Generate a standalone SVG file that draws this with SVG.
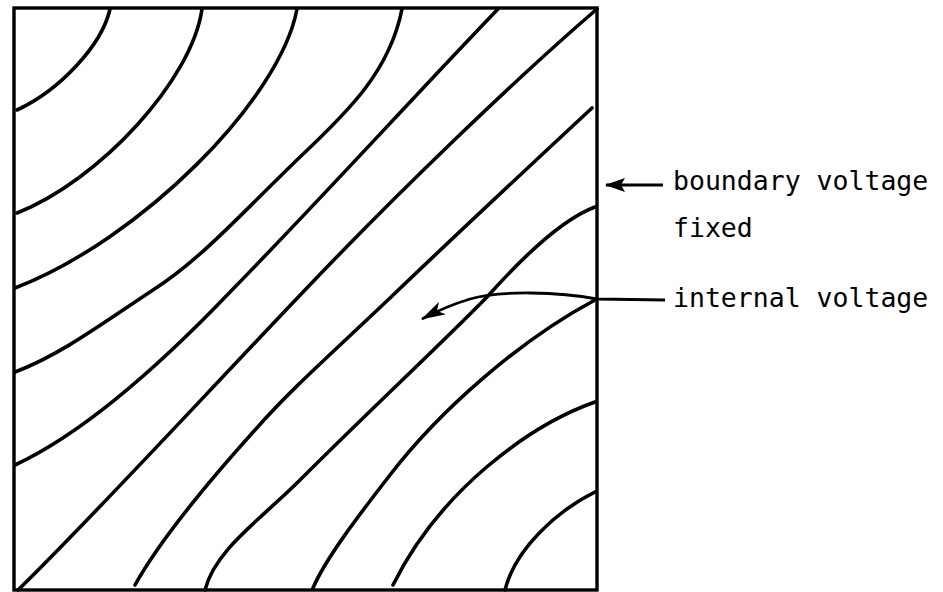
<svg xmlns="http://www.w3.org/2000/svg" width="943" height="592" viewBox="0 0 943 592">
  <style>
    .box { fill: none; stroke: #000; stroke-width: 3.4; }
    .eq { fill: none; stroke: #000; stroke-width: 3.6; stroke-linecap: round; }
    .lead { fill: none; stroke: #000; stroke-width: 2.8; }
    .lbl { font-family: "DejaVu Sans Mono", "Liberation Mono", monospace; font-size: 26.5px; fill: #000; }
  </style>
  <defs>
    <marker id="head" markerUnits="userSpaceOnUse" viewBox="0 0 20 14" refX="19" refY="7" markerWidth="20" markerHeight="14" orient="auto">
      <path d="M0,0 L20,7 L0,14 L4,7 Z" fill="#000"/>
    </marker>
    <marker id="head2" markerUnits="userSpaceOnUse" viewBox="0 0 24 14" refX="23" refY="7" markerWidth="24" markerHeight="14" orient="auto">
      <path d="M0,0 L24,7 L0,14 L6,7 Z" fill="#000"/>
    </marker>
  </defs>
  <rect width="943" height="592" fill="#fff"/>
  <g id="field">
    <rect class="box" x="14" y="8" width="583" height="582"/>
    <g id="equipotentials">
      <path class="eq" d="M110,9 C102,45 60,90 17,110"/>
      <path class="eq" d="M202,9 C192,80 100,180 17,213"/>
      <path class="eq" d="M297,9 C280,100 140,240 15,288"/>
      <path class="eq" d="M402,9 C390,70 350,110 300,157 C240,215 200,260 153,290 C100,325 60,355 15,372"/>
      <path class="eq" d="M498,9 C420,90 320,200 232,290 C170,355 90,430 15,465"/>
      <path class="eq" d="M597,9 C520,75 400,190 305,290 C200,400 90,520 18,590"/>
      <path class="eq" d="M592,108 C520,175 440,250 390,298 C330,355 290,390 255,430 C210,480 160,540 135,585"/>
      <path class="eq" d="M595,207 C560,220 520,260 487,297 C440,345 370,410 300,480 C260,520 215,550 205,590"/>
      <path class="eq" d="M595,300 C520,340 440,410 390,475 C355,520 325,560 313,588"/>
      <path class="eq" d="M595,402 C530,425 440,490 393,585"/>
      <path class="eq" d="M595,492 C555,512 515,550 505,590"/>
    </g>
  </g>
  <g id="connectors">
    <path class="lead" d="M663,185 L606,185" marker-end="url(#head)"/>
    <path class="lead" d="M665,300 L597,299 C560,292 500,290 470,299 C450,305 435,312 422,319" marker-end="url(#head2)"/>
  </g>
  <g id="label-boundary">
    <text class="lbl" x="673" y="190">boundary voltage</text>
    <text class="lbl" x="673" y="237">fixed</text>
  </g>
  <g id="label-internal">
    <text class="lbl" x="673" y="307">internal voltage</text>
  </g>
</svg>
